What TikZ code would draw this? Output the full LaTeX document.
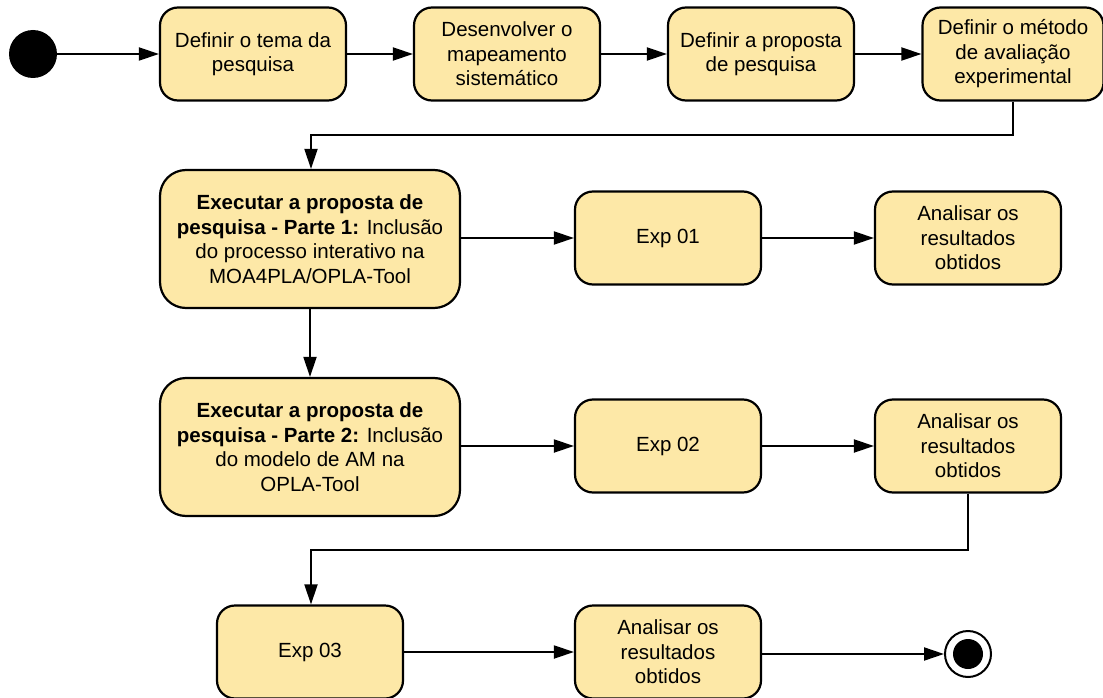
\documentclass[tikz,border=0pt]{standalone}
\usepackage{fontspec}
\setmainfont{Liberation Sans}
\usetikzlibrary{arrows.meta}
\definecolor{actfill}{HTML}{FDE8A7}
\begin{document}
\begin{tikzpicture}[x=1pt,y=-1pt,
  act/.style={draw=black, line width=2.2pt, fill=actfill, rounded corners=18pt,
    align=center, inner sep=0pt, minimum width=186pt, minimum height=93pt,
    font=\fontsize{20.5}{24.5}\selectfont},
  bigact/.style={act, minimum width=300pt, minimum height=138pt, rounded corners=26pt},
  flow/.style={line width=2pt, -{Triangle[length=20pt,width=13pt]}}]
\useasboundingbox (0,0) rectangle (1103,698);

% initial and final states
\node[circle, fill=black, minimum size=48pt, inner sep=0pt] (ini) at (33,54) {};
\node[circle, draw=black, line width=2pt, fill=white, minimum size=46pt, inner sep=0pt] (fim) at (968,654) {};
\fill[black] (fim.center) circle (15pt);

% first row
\node[act] (tema) at (253,54) {Definir o tema da\\pesquisa};
\node[act] (map) at (507,54) {Desenvolver o\\mapeamento\\sistemático};
\node[act] (prop) at (761,54) {Definir a proposta\\de pesquisa};
\node[act, minimum width=181pt] (metodo) at (1013,54) {Definir o método\\de avaliação\\experimental};

% part 1
\node[bigact] (p1) at (310,239) {\textbf{Executar a proposta de}\\\textbf{pesquisa - Parte 1:} Inclusão\\do processo interativo na\\MOA4PLA/OPLA-Tool};
\node[act] (exp1) at (668,238) {Exp 01};
\node[act] (res1) at (968,238) {Analisar os\\resultados\\obtidos};

% part 2
\node[bigact] (p2) at (310,447) {\textbf{Executar a proposta de}\\\textbf{pesquisa - Parte 2:} Inclusão\\do modelo de AM na\\OPLA-Tool};
\node[act] (exp2) at (668,446) {Exp 02};
\node[act] (res2) at (968,446) {Analisar os\\resultados\\obtidos};

% last row
\node[act] (exp3) at (310,652) {Exp 03};
\node[act] (res3) at (668,652) {Analisar os\\resultados\\obtidos};

% connectors
\draw[flow] (ini) -- (tema);
\draw[flow] (tema) -- (map);
\draw[flow] (map) -- (prop);
\draw[flow] (prop) -- (metodo);
\draw[flow] (metodo.south) |- (311,135) -- (p1.north -| 311,0);
\draw[flow] (p1.east |- exp1) -- (exp1);
\draw[flow] (exp1) -- (res1);
\draw[flow] (p1) -- (p2);
\draw[flow] (p2.east |- exp2) -- (exp2);
\draw[flow] (exp2) -- (res2);
\draw[flow] (res2.south) |- (311,550) -- (exp3.north -| 311,0);
\draw[flow] (exp3) -- (res3);
\draw[flow] (res3.east |- fim) -- (fim);
\end{tikzpicture}
\end{document}
